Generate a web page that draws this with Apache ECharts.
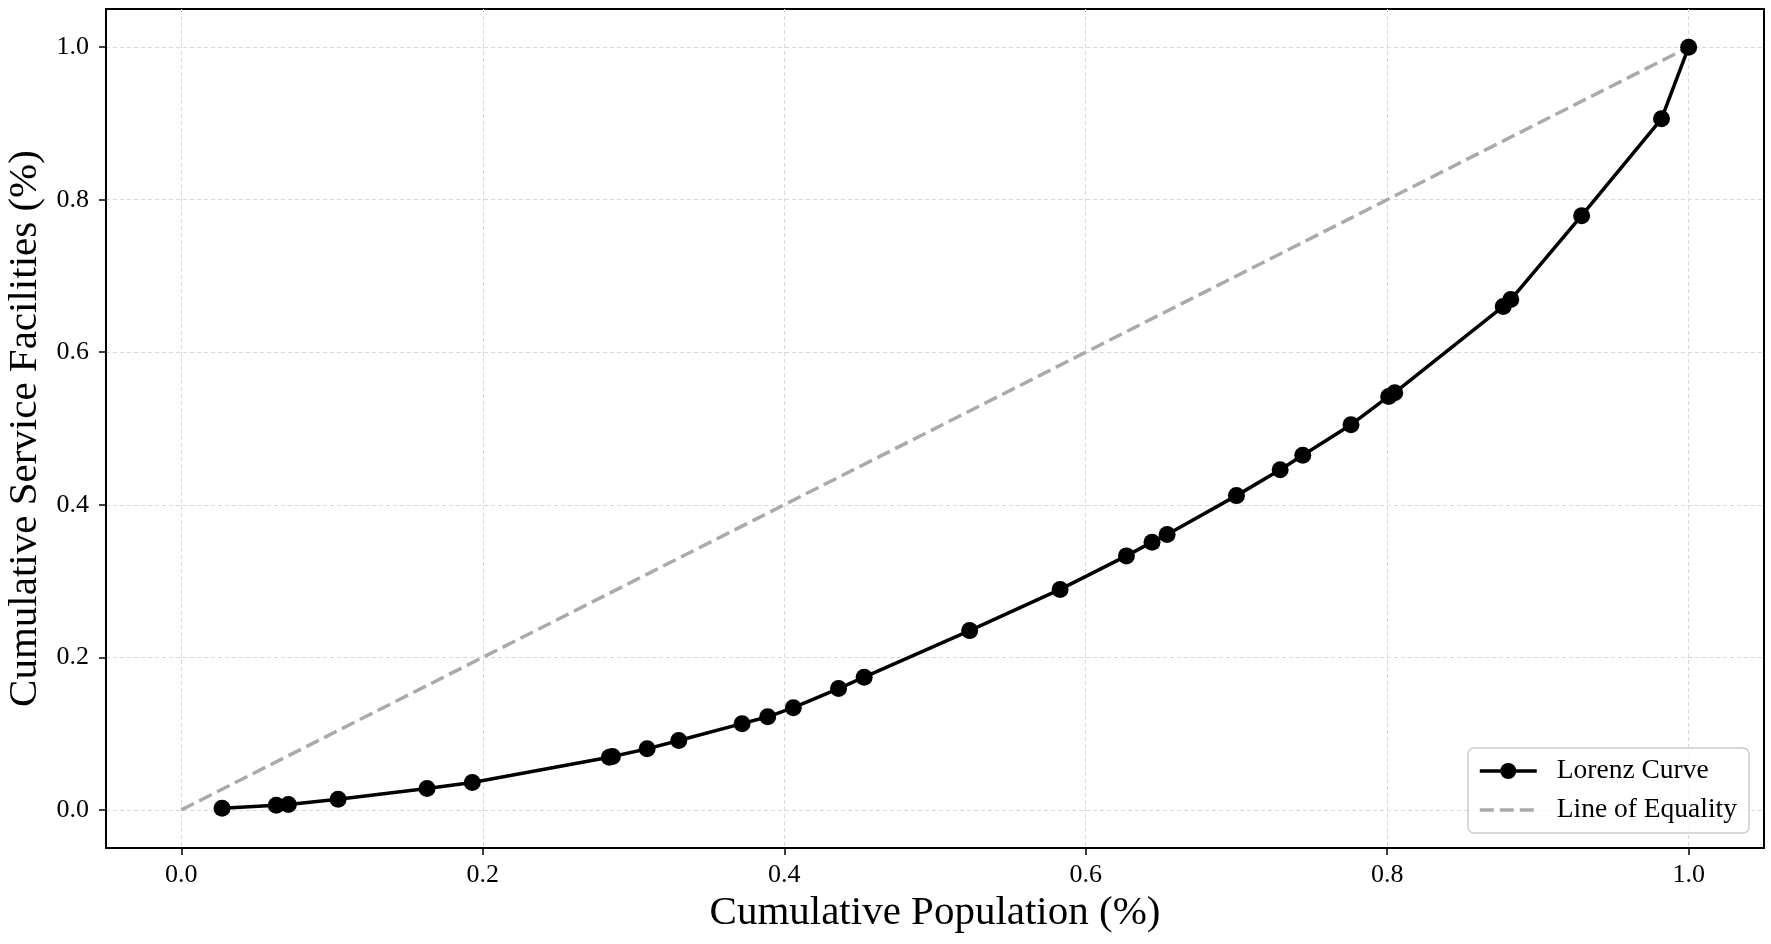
<!DOCTYPE html>
<html>
<head>
<meta charset="utf-8">
<script src="https://cdn.jsdelivr.net/npm/echarts@6/dist/echarts.min.js"></script>
<style>
html,body{margin:0;padding:0;background:#fff;}
#chart{width:1771px;height:944px;}
</style>
</head>
<body>
<div id="chart"></div>
<script>
// Cumulative population share (x) of each point on the Lorenz curve
const popShare = [0.027, 0.063, 0.071, 0.104, 0.163, 0.193, 0.284, 0.286, 0.309, 0.330,
  0.372, 0.389, 0.406, 0.436, 0.453, 0.523, 0.583, 0.627, 0.644, 0.654,
  0.700, 0.729, 0.744, 0.776, 0.801, 0.805, 0.877, 0.882, 0.929, 0.982, 1.000];
// Cumulative service facility share (y)
const facilityShare = [0.002, 0.006, 0.007, 0.014, 0.028, 0.036, 0.069, 0.070, 0.080, 0.091,
  0.113, 0.122, 0.134, 0.159, 0.174, 0.235, 0.289, 0.333, 0.351, 0.361,
  0.412, 0.446, 0.465, 0.505, 0.542, 0.547, 0.660, 0.669, 0.779, 0.906, 1.000];
// Line of equality
const equalityX = [0, 1];
const equalityY = [0, 1];
// Tick values
const xTicks = [0.0, 0.2, 0.4, 0.6, 0.8, 1.0];
const yTicks = [0.0, 0.2, 0.4, 0.6, 0.8, 1.0];

const FONT = '"Liberation Serif", "Times New Roman", serif';

const chart = echarts.init(document.getElementById('chart'), null, {renderer: 'canvas'});

function axisCommon(ticks) {
  return {
    type: 'value',
    min: -0.05,
    max: 1.05,
    axisLine: {show: true, onZero: false, lineStyle: {color: '#000', width: 2}},
    axisTick: {show: true, inside: false, length: 7, customValues: ticks,
      lineStyle: {color: '#000', width: 1.5}},
    axisLabel: {customValues: ticks, fontFamily: FONT, fontSize: 26, color: '#000',
      formatter: v => v.toFixed(1)},
    splitLine: {show: true, lineStyle: {color: '#d9d9d9', width: 1, type: [4, 3]}},
    nameTextStyle: {fontFamily: FONT, fontSize: 41, color: '#000'},
    nameLocation: 'middle'
  };
}

const xAxis = Object.assign(axisCommon(xTicks), {
  name: 'Cumulative Population (%)',
  nameGap: 44
});
xAxis.axisLabel.margin = 14;
const yAxis = Object.assign(axisCommon(yTicks), {
  name: 'Cumulative Service Facilities (%)',
  nameGap: 58
});
yAxis.axisLabel.margin = 17;

chart.setOption({
  animation: false,
  backgroundColor: '#fff',
  grid: {left: 106, right: 7, top: 9, bottom: 96, show: true,
    borderColor: '#000', borderWidth: 2, containLabel: false,
    outerBoundsMode: 'none'},
  xAxis: xAxis,
  yAxis: yAxis,
  legend: {
    orient: 'vertical',
    right: 22,
    bottom: 111,
    itemWidth: 57,
    itemHeight: 20,
    itemGap: 11,
    padding: [9, 12, 9, 10],
    borderColor: '#cccccc',
    borderWidth: 1.5,
    borderRadius: 6,
    backgroundColor: 'rgba(255,255,255,0.8)',
    lineStyle: {width: 3.5},
    textStyle: {fontFamily: FONT, fontSize: 27.5, color: '#000', padding: [0, 0, 0, 15]},
    data: [
      {name: 'Lorenz Curve'},
      {name: 'Line of Equality', itemStyle: {opacity: 0}}
    ]
  },
  series: [
    {
      name: 'Lorenz Curve',
      type: 'line',
      data: popShare.map((x, i) => [x, facilityShare[i]]),
      symbol: 'circle',
      symbolSize: 17,
      showAllSymbol: true,
      lineStyle: {color: '#000', width: 3.5},
      itemStyle: {color: '#000'},
      z: 3
    },
    {
      name: 'Line of Equality',
      type: 'line',
      data: equalityX.map((x, i) => [x, equalityY[i]]),
      symbol: 'none',
      lineStyle: {color: '#aaaaaa', width: 3.5, type: [14, 6]},
      itemStyle: {color: '#aaaaaa'},
      z: 2
    }
  ]
});
</script>
</body>
</html>
